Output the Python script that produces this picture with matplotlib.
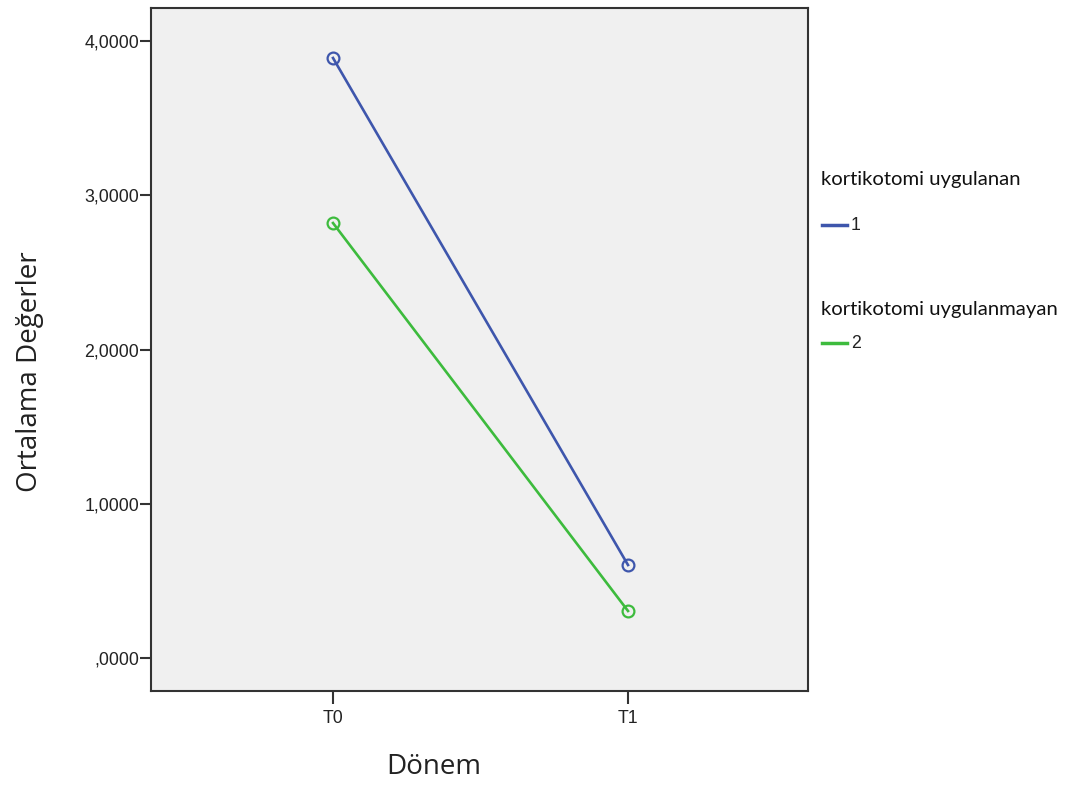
import matplotlib
matplotlib.use("Agg")
import matplotlib.pyplot as plt
from matplotlib.lines import Line2D
from matplotlib.ticker import FixedLocator

periods = ["T0", "T1"]
group_titles = ["kortikotomi uygulanan", "kortikotomi uygulanmayan"]
group_codes = ["1", "2"]
group_means = [
    [3.89, 0.603],   # kortikotomi uygulanan
    [2.82, 0.305],   # kortikotomi uygulanmayan
]
y_ticks = [0, 1, 2, 3, 4]
y_tick_labels = [",0000", "1,0000", "2,0000", "3,0000", "4,0000"]
colors = ["#3e56ac", "#3dbb3d"]

fig = plt.figure(figsize=(10.77, 7.85), dpi=100)
ax = fig.add_axes([0.1402, 0.1197, 0.7502 - 0.1402, 0.9898 - 0.1197])
ax.set_facecolor("#f0f0f0")

x = list(range(len(periods)))
for vals, col in zip(group_means, colors):
    ax.plot(x, vals, color=col, lw=1.9, marker="o", ms=8.5,
            mfc="none", mec=col, mew=1.6)

ax.set_xlim(-0.617, 1.61)
ax.set_ylim(-0.214, 4.214)
ax.set_xticks(x)
ax.set_xticklabels(periods, fontfamily="Liberation Sans", fontsize=12.8)
ax.yaxis.set_major_locator(FixedLocator(y_ticks))
ax.set_yticklabels(y_tick_labels, fontfamily="Liberation Sans", fontsize=12.8)
ax.tick_params(width=1.5, color="#333333", labelcolor="#222222")
ax.tick_params(axis="x", length=9.5, pad=4.5)
ax.tick_params(axis="y", length=8, pad=0.5)
for sp in ax.spines.values():
    sp.set_linewidth(1.5)
    sp.set_color("#333333")

fig.text(434 / 1077, 1 - 767 / 785, "Dönem", fontfamily="Open Sans",
         fontsize=20, ha="center", va="center", color="#222222")
fig.text(30 / 1077, 1 - 372 / 785, "Ortalama Değerler", fontfamily="Open Sans",
         fontsize=20, ha="center", va="center", rotation=90, color="#222222")

# legend block on the right
title_y = [180, 309]
entry_y = [225, 343]
for title, code, col, ty, ey in zip(group_titles, group_codes, colors, title_y, entry_y):
    fig.text(821 / 1077, 1 - ty / 785, title, fontfamily="Lato", fontsize=14.6,
             ha="left", va="center", color="#111111")
    fig.add_artist(Line2D([822 / 1077, 847 / 1077], [1 - ey / 785, 1 - ey / 785],
                          color=col, lw=2.5, transform=fig.transFigure))
    fig.text(851 / 1077, 1 - ey / 785, code, fontfamily="Liberation Sans", fontsize=12.8,
             ha="left", va="center", color="#222222")

fig.savefig("out.png", dpi=100)
